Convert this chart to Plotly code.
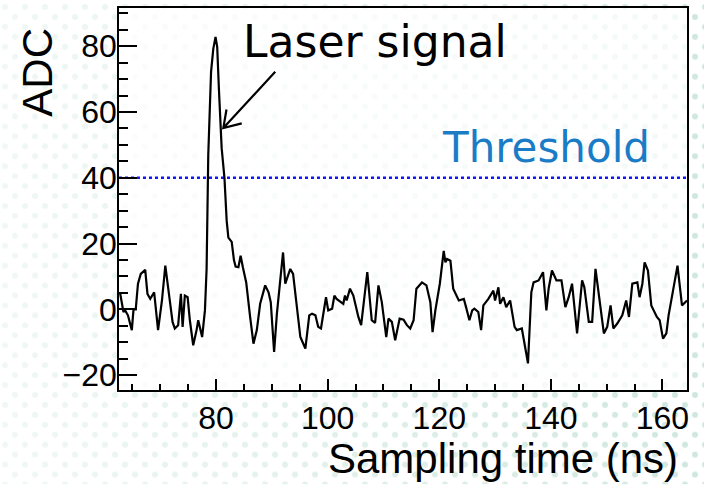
import base64
import math
import plotly.graph_objects as go

# ---- data ----
time_ns = [62.8, 63.4, 63.7, 64.2, 64.9, 65.2, 65.6, 66.0, 66.5, 67.3,
           67.7, 68.2, 68.9, 69.6, 70.3, 70.9, 71.4, 72.2, 72.6, 73.2,
           73.7, 74.0, 74.4, 74.9, 75.3, 75.9, 76.5, 76.8, 77.5, 78.0,
           78.3, 78.6, 79.1, 79.5, 79.9, 80.2, 80.5, 81.0, 81.5, 81.9,
           82.2, 82.8, 83.2, 83.5, 84.0, 84.4, 84.8, 85.4, 86.1, 86.7,
           87.3, 87.9, 88.8, 89.4, 89.8, 90.4, 90.9, 91.5, 92.0, 92.4,
           93.3, 93.8, 94.5, 95.1, 96.0, 96.7, 97.2, 97.8, 98.3, 98.8,
           99.7, 100.1, 100.8, 101.2, 101.6, 102.8, 103.1, 103.4, 104.0, 104.6,
           105.5, 106.0, 107.1, 107.9, 108.5, 109.1, 109.7, 110.5, 110.9, 111.5,
           112.1, 112.9, 113.6, 114.2, 114.8, 115.4, 115.9, 116.9, 117.7, 118.4,
           118.8, 119.3, 120.1, 120.8, 121.1, 121.4, 122.0, 122.5, 123.5, 124.4,
           124.8, 125.4, 125.9, 126.3, 127.0, 127.5, 127.9, 128.8, 129.7, 130.0,
           130.6, 130.9, 131.5, 132.0, 132.7, 133.5, 133.9, 134.8, 135.9, 136.5,
           136.9, 137.8, 138.6, 139.2, 139.6, 140.2, 141.0, 141.9, 142.6, 143.2,
           143.8, 144.7, 145.6, 146.0, 146.8, 147.4, 148.0, 148.9, 149.5, 150.1,
           150.7, 151.2, 151.9, 152.8, 153.5, 154.0, 154.6, 155.5, 155.9, 156.4,
           156.8, 157.4, 158.0, 159.0, 159.5, 160.1, 160.7, 161.1, 162.0, 162.7,
           163.5, 164.4]

adc = [4.9, -0.8, -0.3, -1.8, -6.3, 0.0, 0.0, 7.8, 10.8, 12.0,
       4.7, 3.2, 5.2, -6.3, 2.7, 13.3, 6.7, -3.8, -5.8, -4.8,
       4.7, -5.3, 4.2, 3.7, -3.3, -10.9, -6.3, -3.3, -8.4, -0.3,
       12.3, 47.0, 72.2, 79.2, 82.8, 79.8, 67.2, 49.0, 40.0, 26.9,
       21.8, 20.5, 15.0, 13.0, 12.8, 16.3, 12.8, 8.2, -2.3, -10.4,
       -6.3, 1.7, 7.3, 5.2, 2.2, -12.9, -1.3, 7.8, 17.3, 7.8,
       12.3, 10.8, 0.7, -8.4, -11.9, -1.8, -1.3, -1.8, -5.3, -5.8,
       3.7, -0.3, 0.2, 4.2, 3.2, 1.7, 4.2, 2.7, 6.3, 4.2,
       -2.3, -4.8, 11.3, -3.3, -4.1, 7.3, 2.2, -8.4, -2.8, -3.8,
       -9.4, -2.8, -3.1, -4.8, -5.8, -3.3, 6.3, 8.2, 7.3, 2.2,
       -6.9, -0.3, 7.8, 17.8, 14.3, 15.3, 14.8, 6.3, 2.7, 3.2,
       0.7, -3.3, -0.3, 0.2, -0.8, -6.3, 1.2, 3.2, 5.7, 2.7,
       6.7, 1.7, 3.7, 0.7, 2.7, -5.3, -6.3, -5.8, -16.4, 5.2,
       8.2, 8.8, 11.3, -0.3, 6.3, 11.8, 8.8, 8.8, 0.7, 3.7,
       7.8, -7.3, 8.8, 6.7, -3.8, -3.8, 12.3, 0.7, -7.3, -5.3,
       1.2, -5.8, -4.3, -1.8, 2.7, -2.3, 7.8, 8.2, 3.7, 7.8,
       14.3, 11.8, 1.2, -2.3, -3.3, -8.9, -7.3, -1.8, 6.3, 13.3,
       1.2, 2.7]

threshold = 40
x_range = [62.6, 164.4]
y_range = [-24.5, 91.6]
x_ticks = [80, 100, 120, 140, 160]
y_ticks = [-20, 0, 20, 40, 60, 80]

# annotation anchor values (data units)
arrow_tip = (81.3, 55.1)
arrow_tail = (90.6, 72.2)
laser_label_pos = (84.5, 81.3)
threshold_label_pos = (120.1, 49.2)

# ---- layout geometry ----
W, H = 704, 485
ML, MR, MT, MB = 119, 17, 6, 95
PW, PH = W - ML - MR, H - MT - MB

# arrow head wings (computed in pixel space, converted back to data units)
sx = PW / (x_range[1] - x_range[0])
sy = PH / (y_range[1] - y_range[0])
dx_px = (arrow_tail[0] - arrow_tip[0]) * sx
dy_px = (arrow_tail[1] - arrow_tip[1]) * sy
ang = math.atan2(dy_px, dx_px)
wing_len, wing_ang = 19, math.radians(33)
wings = []
for s in (1, -1):
    a = ang + s * wing_ang
    wings.append((arrow_tip[0] + wing_len * math.cos(a) / sx,
                  arrow_tip[1] + wing_len * math.sin(a) / sy))
arrow_path = (f"M{arrow_tail[0]},{arrow_tail[1]} L{arrow_tip[0]},{arrow_tip[1]} "
              f"M{wings[0][0]},{wings[0][1]} L{arrow_tip[0]},{arrow_tip[1]} "
              f"L{wings[1][0]},{wings[1][1]}")

# ---- dotted background (decoration) ----
svg = """<svg xmlns="http://www.w3.org/2000/svg" width="704" height="485">
<defs>
<pattern id="p" width="20" height="20" patternUnits="userSpaceOnUse">
<circle cx="5" cy="5" r="3" fill="#cfe7df"/>
<circle cx="15" cy="15" r="3" fill="#cfe7df"/>
</pattern>
<linearGradient id="g" x1="0" x2="1" y1="0" y2="0">
<stop offset="0" stop-color="white" stop-opacity="0.3"/>
<stop offset="1" stop-color="white" stop-opacity="1"/>
</linearGradient>
<mask id="m"><rect width="704" height="485" fill="url(#g)"/></mask>
</defs>
<rect width="704" height="485" fill="url(#p)" mask="url(#m)"/>
</svg>"""
svg_uri = "data:image/svg+xml;base64," + base64.b64encode(svg.encode()).decode()

fig = go.Figure()

fig.add_trace(go.Scatter(
    x=x_range, y=[threshold, threshold], mode="lines",
    line=dict(color="#1414ff", width=2.5, dash="3px,3px"),
    hoverinfo="skip", showlegend=False))

fig.add_trace(go.Scatter(
    x=time_ns, y=adc, mode="lines",
    line=dict(color="black", width=2.2),
    showlegend=False))

tick_font = dict(family="Liberation Sans, Arial, sans-serif", size=32, color="black")
title_font = dict(family="Liberation Sans, Arial, sans-serif", size=42, color="black")
gothic = "DejaVu Sans, sans-serif"

fig.update_layout(
    width=W, height=H,
    margin=dict(l=ML, r=MR, t=MT, b=MB),
    paper_bgcolor="white",
    plot_bgcolor="rgba(0,0,0,0)",
    images=[dict(source=svg_uri, xref="paper", yref="paper",
                 x=-ML / PW, y=1 + MT / PH, sizex=W / PW, sizey=H / PH,
                 xanchor="left", yanchor="top", sizing="stretch", layer="below")],
    shapes=[
        dict(type="rect", xref="paper", yref="paper", x0=0, x1=1, y0=0, y1=1,
             fillcolor="rgba(255,255,255,0.75)", line=dict(width=0), layer="below"),
        dict(type="path", xref="x", yref="y", path=arrow_path,
             line=dict(color="black", width=2.2), layer="above"),
    ],
    xaxis=dict(range=x_range, tickvals=x_ticks, ticks="inside", ticklen=11,
               tickwidth=1.5, tickcolor="black", showgrid=False, zeroline=False,
               showline=True, linecolor="black", linewidth=1.5, mirror=True,
               tickfont=tick_font, ticklabelstandoff=-1,
               minor=dict(ticks="inside", dtick=5, ticklen=6, tickwidth=1.5,
                          tickcolor="black", showgrid=False)),
    yaxis=dict(range=y_range, tickvals=y_ticks, ticks="inside", ticklen=18,
               tickwidth=1.5, tickcolor="black", showgrid=False, zeroline=False,
               showline=True, linecolor="black", linewidth=1.5, mirror=True,
               tickfont=tick_font, ticklabelstandoff=-6,
               minor=dict(ticks="inside", dtick=5, ticklen=9, tickwidth=1.5,
                          tickcolor="black", showgrid=False)),
    annotations=[
        dict(x=laser_label_pos[0], y=laser_label_pos[1], xref="x", yref="y",
             text="Laser signal", showarrow=False, xanchor="left", yanchor="middle",
             font=dict(family=gothic, size=44, color="black")),
        dict(x=threshold_label_pos[0], y=threshold_label_pos[1], xref="x", yref="y",
             text="Threshold", showarrow=False, xanchor="left", yanchor="middle",
             font=dict(family=gothic, size=42, color="#1a7cc6")),
        dict(x=(680 - ML) / PW, y=(390 - 459) / PH, xref="paper", yref="paper",
             text="Sampling time (ns)", showarrow=False, xanchor="right",
             yanchor="middle", font=title_font),
        dict(x=(38 - ML) / PW, y=(390 - 71) / PH, xref="paper", yref="paper",
             text="ADC", showarrow=False, textangle=-90, xanchor="center",
             yanchor="middle", font=title_font),
    ],
)

fig.write_html("out.html")
